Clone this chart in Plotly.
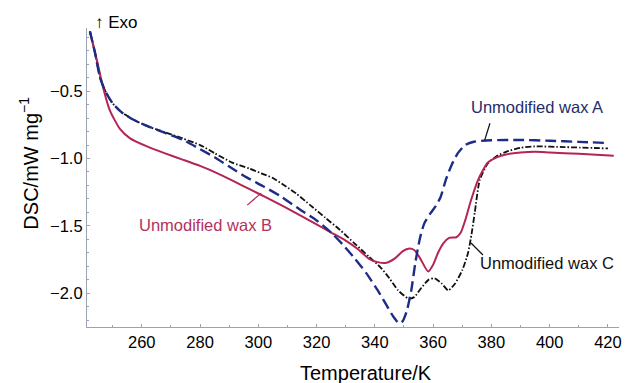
import plotly.graph_objects as go

# ---- data ----
temp_a = [242.2, 244, 245.7, 247.5, 250, 253, 257, 262, 268, 274, 280, 285, 290, 296, 302, 308,
          314, 320, 325, 329, 333, 337, 341, 344, 346.5, 348.3, 349.5, 351, 352.5, 354, 355.5,
          357, 359, 361, 362.5, 364.5, 366.5, 368.5, 371, 374, 380, 390, 400, 410, 420]
dsc_a = [-0.055, -0.22, -0.40, -0.50, -0.59, -0.655, -0.71, -0.76, -0.81, -0.86, -0.93, -0.99,
         -1.06, -1.14, -1.21, -1.285, -1.375, -1.46, -1.55, -1.64, -1.74, -1.85, -1.98, -2.09,
         -2.18, -2.225, -2.21, -2.13, -1.98, -1.76, -1.59, -1.48, -1.41, -1.35, -1.29, -1.15,
         -1.04, -0.96, -0.90, -0.875, -0.864, -0.862, -0.868, -0.876, -0.885]

temp_b = [242.2, 244.6, 246.7, 249, 252.5, 256, 262, 268, 274, 280, 286, 291, 297, 303, 309,
          315, 320, 325, 330, 334, 338, 341, 344, 347, 349.5, 351.5, 353.5, 355.5, 358.3, 360,
          361.7, 363.5, 365.5, 368, 369.5, 371, 373, 375.4, 377, 378.8, 382, 385, 390, 395,
          400, 410, 422]
dsc_b = [-0.055, -0.27, -0.47, -0.64, -0.78, -0.85, -0.912, -0.962, -1.008, -1.055, -1.11, -1.162,
         -1.228, -1.292, -1.36, -1.43, -1.49, -1.55, -1.61, -1.67, -1.745, -1.77, -1.775, -1.74,
         -1.69, -1.67, -1.68, -1.74, -1.84, -1.79, -1.70, -1.63, -1.59, -1.585, -1.55, -1.46,
         -1.31, -1.16, -1.09, -1.03, -0.99, -0.97, -0.955, -0.95, -0.955, -0.965, -0.98]

temp_c = [242.2, 244, 245.7, 247.5, 250, 253, 257, 262, 268, 274, 280, 285, 291, 297, 301,
          305, 309, 313, 318, 323, 328, 333, 338, 342, 345, 348, 351.5, 353.5, 356, 358.5,
          360.5, 363, 365.2, 367.5, 370, 372, 373.2, 374.3, 376, 378.8, 382, 385, 390, 395,
          405, 420]
dsc_c = [-0.055, -0.22, -0.40, -0.50, -0.59, -0.655, -0.71, -0.76, -0.805, -0.85, -0.90, -0.96,
         -1.03, -1.075, -1.11, -1.145, -1.20, -1.26, -1.35, -1.44, -1.53, -1.63, -1.73, -1.81,
         -1.89, -1.98, -2.04, -2.03, -1.96, -1.90, -1.89, -1.93, -1.98, -1.93, -1.83, -1.70,
         -1.56, -1.40, -1.16, -1.035, -0.98, -0.95, -0.92, -0.91, -0.915, -0.925]

x_ticks = [260, 280, 300, 320, 340, 360, 380, 400, 420]
y_ticks = [-0.5, -1.0, -1.5, -2.0]
y_tick_labels = ["\u22120.5", "\u22121.0", "\u22121.5", "\u22122.0"]

labels = ["Unmodified wax A", "Unmodified wax B", "Unmodified wax C"]
label_pos = [(395.8, -0.619), (281.8, -1.495), (399.2, -1.777)]
leader_lines = [((377.7, -0.864), (379.5, -0.738)),
                ((301.0, -1.257), (296.2, -1.346)),
                ((373.0, -1.628), (377.1, -1.717))]

col_a = "#1d2d87"
col_b = "#b42455"
col_c = "#111111"
text_cols = ["#252c6b", "#b4305c", "#111111"]

FONT = "Liberation Sans, Arial, Helvetica, sans-serif"

fig = go.Figure()
fig.add_trace(go.Scatter(x=temp_c, y=dsc_c, mode="lines", name=labels[2],
                         line=dict(color=col_c, width=1.8, dash="6px,2px,1.5px,2px", shape="spline",
                                   smoothing=0.6)))
fig.add_trace(go.Scatter(x=temp_b, y=dsc_b, mode="lines", name=labels[1],
                         line=dict(color=col_b, width=2, shape="spline", smoothing=0.6)))
fig.add_trace(go.Scatter(x=temp_a, y=dsc_a, mode="lines", name=labels[0],
                         line=dict(color=col_a, width=2.4, dash="11px,5px", shape="spline",
                                   smoothing=0.6)))

for (p0, p1), c in zip(leader_lines, [col_c, col_b, col_c]):
    fig.add_shape(type="line", xref="x", yref="y", x0=p0[0], y0=p0[1], x1=p1[0], y1=p1[1],
                  line=dict(color=c, width=1.2))

for lab, (lx, ly), c in zip(labels, label_pos, text_cols):
    fig.add_annotation(x=lx, y=ly, xref="x", yref="y", text=lab, showarrow=False,
                       font=dict(family=FONT, size=16.5, color=c), xanchor="center", yanchor="middle")

fig.add_annotation(x=0.012, y=1.02, xref="paper", yref="paper", text="\u2191 Exo", showarrow=False,
                   font=dict(family=FONT, size=17, color="black"), xanchor="left", yanchor="middle")
fig.add_annotation(x=0.525, y=-0.154, xref="paper", yref="paper", text="Temperature/K",
                   showarrow=False, font=dict(family=FONT, size=20, color="black"),
                   xanchor="center", yanchor="middle")
fig.add_annotation(x=-0.110, y=0.548, xref="paper", yref="paper", text="DSC/mW mg<sup>\u22121</sup>",
                   textangle=-90, showarrow=False, font=dict(family=FONT, size=20, color="black"),
                   xanchor="center", yanchor="middle")

axis_col = "#9ea3b3"
fig.update_xaxes(range=[241.2, 423.8], tickvals=x_ticks, showgrid=False, zeroline=False,
                 showline=True, linecolor=axis_col, linewidth=1.2, ticks="inside", ticklen=3,
                 tickcolor=axis_col, tickfont=dict(family=FONT, size=16.5, color="black"),
                 minor=dict(dtick=10, tick0=240, ticks="inside", ticklen=2, tickcolor=axis_col))
fig.update_yaxes(range=[-2.252, -0.03], tickvals=y_ticks, ticktext=y_tick_labels, showgrid=False,
                 zeroline=False, showline=True, linecolor=axis_col, linewidth=1.2, ticks="inside",
                 ticklen=3, tickcolor=axis_col, tickfont=dict(family=FONT, size=16.5, color="black"),
                 minor=dict(dtick=0.1, tick0=0, ticks="inside", ticklen=2, tickcolor=axis_col))

# the page body adds an 8px margin, so the figure is sized to fit inside the window
fig.update_layout(width=622, height=375, margin=dict(l=79, r=8, t=20, b=56),
                  plot_bgcolor="white", paper_bgcolor="white", showlegend=False)

fig.write_html("out.html")
